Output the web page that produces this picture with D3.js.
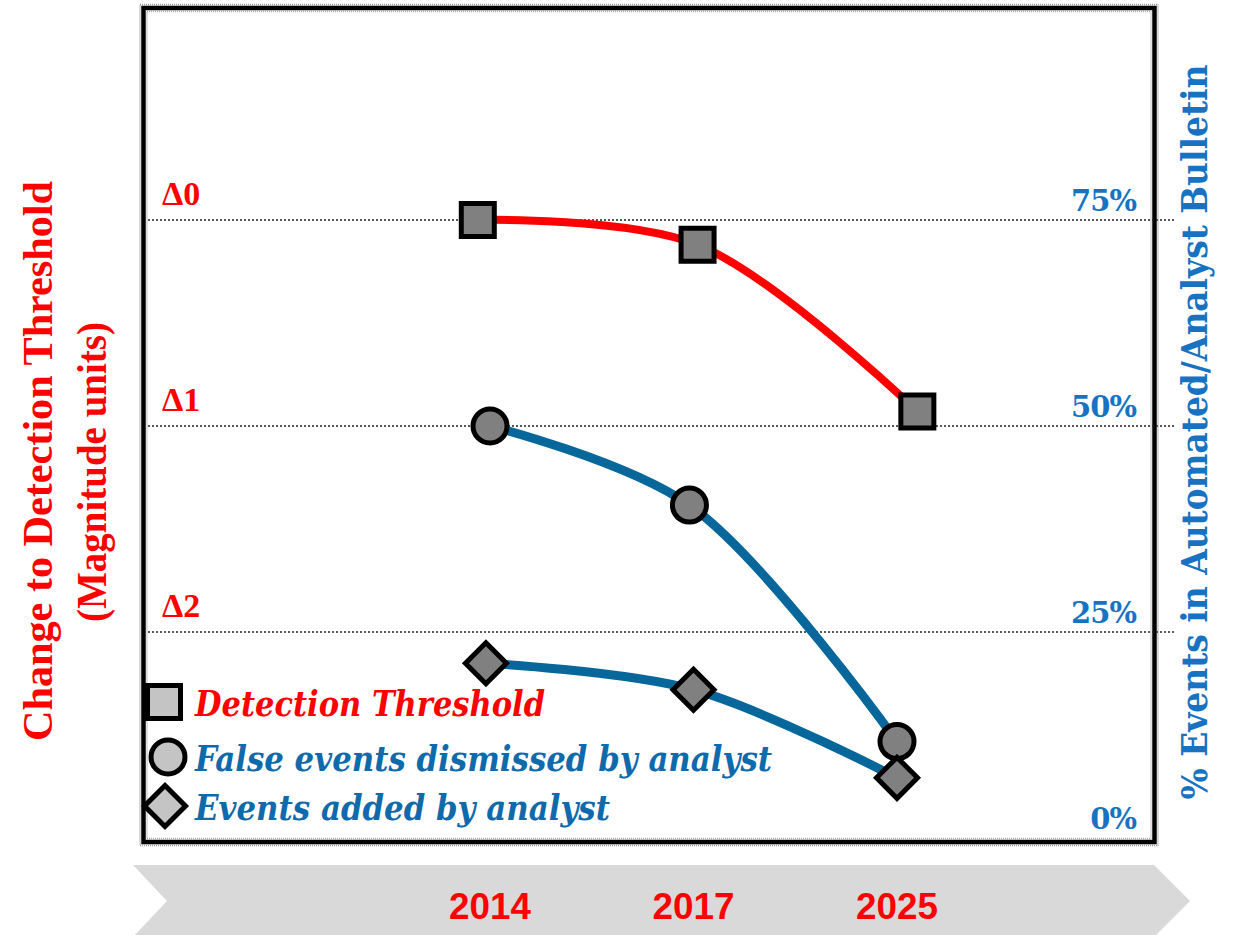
<!DOCTYPE html>
<html>
<head>
<meta charset="utf-8">
<script src="https://cdn.jsdelivr.net/npm/d3@7"></script>
<style>
  body { margin: 0; background: #fff; }
  svg { display: block; }
</style>
</head>
<body>
<div id="chart"></div>
<script>
// years along the bottom arrow
var years = ["2014", "2017", "2025"];
var yearSteps = [0, 1, 2];

// detection threshold (left axis, magnitude units below Δ0)
var thresholdSteps = [-0.06, 1.02, 2.1];
var thresholdDelta = [0, 0.12, 0.93];

// % events (right axis)
var dismissedSteps = [0, 0.98, 2];
var dismissedPct = [50, 40.4, 11.7];
var addedSteps = [-0.02, 1, 2];
var addedPct = [21.2, 18, 7.3];

var deltaTicks = [0, 1, 2];
var deltaLabels = ["Δ0", "Δ1", "Δ2"];
var pctTicks = [75, 50, 25, 0];
var gridTicks = [75, 50, 25];

var legendNames = ["Detection Threshold", "False events dismissed by analyst", "Events added by analyst"];

var width = 1235, height = 935;
var red = "#ff0000", lineBlue = "#07679b", textBlue = "#0f6aab", axisBlue = "#1773c2";

var svg = d3.select("#chart").append("svg")
    .attr("width", width)
    .attr("height", height);

var x = d3.scaleLinear().domain([0, 2]).range([490, 897]);
var yPct = d3.scaleLinear().domain([0, 75]).range([838, 220]);
var yDelta = d3.scaleLinear().domain([0, 2]).range([220, 632]);

// bottom chevron arrow
svg.append("path")
    .attr("d", "M133,865 L1154,865 L1190,901 L1154,937 L133,937 L167,901 Z")
    .attr("fill", "#d9d9d9");

svg.append("g").selectAll("text")
    .data(years)
    .enter().append("text")
      .attr("x", function(d, i) { return x(yearSteps[i]); })
      .attr("y", 919)
      .attr("text-anchor", "middle")
      .attr("font-family", "Liberation Sans, Arial, sans-serif")
      .attr("font-weight", "bold")
      .attr("font-size", 36)
      .attr("textLength", 82)
      .attr("lengthAdjust", "spacingAndGlyphs")
      .attr("fill", red)
      .text(function(d) { return d; });

// plot frame
svg.append("rect")
    .attr("x", 140).attr("y", 4.5).attr("width", 1018).attr("height", 841)
    .attr("fill", "none").attr("stroke", "#999").attr("stroke-width", 1.5)
    .attr("stroke-dasharray", "1,1");
svg.append("rect")
    .attr("x", 147).attr("y", 11.5).attr("width", 1004).attr("height", 827)
    .attr("fill", "none").attr("stroke", "#aaa").attr("stroke-width", 1.5)
    .attr("stroke-dasharray", "1,1");
svg.append("rect")
    .attr("x", 143.5).attr("y", 8).attr("width", 1011).attr("height", 834)
    .attr("fill", "none").attr("stroke", "#000").attr("stroke-width", 4.5);

// dotted gridlines
svg.append("g").selectAll("line")
    .data(gridTicks)
    .enter().append("line")
      .attr("x1", 148).attr("x2", 1176)
      .attr("y1", function(d) { return yPct(d); })
      .attr("y2", function(d) { return yPct(d); })
      .attr("stroke", "#222")
      .attr("stroke-width", 1.6)
      .attr("stroke-dasharray", "2,2");

// left Δ axis, labels sit inside the frame
var leftAxis = svg.append("g")
    .attr("transform", "translate(158,0)")
    .call(d3.axisRight(yDelta).tickValues(deltaTicks).tickSize(0)
        .tickFormat(function(d, i) { return deltaLabels[i]; }));
leftAxis.select(".domain").remove();
leftAxis.selectAll("text")
    .attr("x", 4)
    .attr("dy", -16)
    .attr("font-family", "Liberation Serif, serif")
    .attr("font-weight", "bold")
    .attr("font-size", 34)
    .attr("fill", red);

// right % axis
var rightAxis = svg.append("g")
    .attr("transform", "translate(1138,0)")
    .call(d3.axisLeft(yPct).tickValues(pctTicks).tickSize(0)
        .tickFormat(function(d) { return d + "%"; }));
rightAxis.select(".domain").remove();
rightAxis.selectAll("text")
    .attr("x", -2)
    .attr("dy", -10)
    .attr("font-family", "DejaVu Serif, serif")
    .attr("font-weight", "bold")
    .attr("font-size", 29)
    .attr("letter-spacing", -1)
    .attr("fill", axisBlue);

// axis titles
svg.append("text")
    .attr("transform", "translate(52,461) rotate(-90)")
    .attr("text-anchor", "middle")
    .attr("font-family", "Liberation Serif, serif")
    .attr("font-weight", "bold")
    .attr("font-size", 43)
    .attr("textLength", 560)
    .attr("lengthAdjust", "spacingAndGlyphs")
    .attr("fill", red)
    .text("Change to Detection Threshold");
svg.append("text")
    .attr("transform", "translate(106,472) rotate(-90)")
    .attr("text-anchor", "middle")
    .attr("font-family", "Liberation Serif, serif")
    .attr("font-weight", "bold")
    .attr("font-size", 42)
    .attr("textLength", 300)
    .attr("lengthAdjust", "spacingAndGlyphs")
    .attr("fill", red)
    .text("(Magnitude units)");
svg.append("text")
    .attr("transform", "translate(1207,432) rotate(-90)")
    .attr("text-anchor", "middle")
    .attr("font-family", "DejaVu Serif, serif")
    .attr("font-weight", "bold")
    .attr("font-size", 35)
    .attr("textLength", 735)
    .attr("lengthAdjust", "spacingAndGlyphs")
    .attr("fill", axisBlue)
    .text("% Events in Automated/Analyst  Bulletin");

// smooth lines
var line = d3.line().curve(d3.curveCatmullRom.alpha(0.5));

function pts(steps, vals, yScale) {
  return steps.map(function(s, i) { return [x(s), yScale(vals[i])]; });
}

var thresholdPts = pts(thresholdSteps, thresholdDelta, yDelta);
var dismissedPts = pts(dismissedSteps, dismissedPct, yPct);
var addedPts = pts(addedSteps, addedPct, yPct);

svg.append("path").attr("d", line(thresholdPts))
    .attr("fill", "none").attr("stroke", red).attr("stroke-width", 8);
svg.append("path").attr("d", line(dismissedPts))
    .attr("fill", "none").attr("stroke", lineBlue).attr("stroke-width", 9);
svg.append("path").attr("d", line(addedPts))
    .attr("fill", "none").attr("stroke", lineBlue).attr("stroke-width", 9);

// markers
var sq = d3.symbol().type(d3.symbolSquare).size(33 * 33);
var circ = d3.symbol().type(d3.symbolCircle).size(Math.PI * 17 * 17);
var dia = d3.symbol().type(d3.symbolSquare).size(29 * 29);

function markers(data, sym, rot) {
  svg.append("g").selectAll("path")
      .data(data)
      .enter().append("path")
        .attr("d", sym)
        .attr("transform", function(d) { return "translate(" + d[0] + "," + d[1] + ") rotate(" + rot + ")"; })
        .attr("fill", "#808080")
        .attr("stroke", "#000")
        .attr("stroke-width", 5);
}
markers(thresholdPts, sq, 0);
markers(dismissedPts, circ, 0);
markers(addedPts, dia, 45);

// legend
var legendY = [702, 757, 806];
var legendColors = [red, textBlue, textBlue];
var legendLen = [350, 577, 415];
var legendSyms = [sq, circ, dia];
var legendRot = [0, 0, 45];
var legendMx = [164, 168, 165];

var lg = svg.append("g").selectAll("g")
    .data(legendNames)
    .enter().append("g");
lg.append("path")
    .attr("d", function(d, i) { return legendSyms[i](); })
    .attr("transform", function(d, i) { return "translate(" + legendMx[i] + "," + legendY[i] + ") rotate(" + legendRot[i] + ")"; })
    .attr("fill", "#c4c4c4")
    .attr("stroke", "#000")
    .attr("stroke-width", 5);
lg.append("text")
    .attr("x", 195)
    .attr("y", function(d, i) { return legendY[i] + 14; })
    .attr("font-family", "DejaVu Serif, serif")
    .attr("font-weight", "bold")
    .attr("font-style", "italic")
    .attr("font-size", 36)
    .attr("textLength", function(d, i) { return legendLen[i]; })
    .attr("lengthAdjust", "spacingAndGlyphs")
    .attr("fill", function(d, i) { return legendColors[i]; })
    .text(function(d) { return d; });
</script>
</body>
</html>
